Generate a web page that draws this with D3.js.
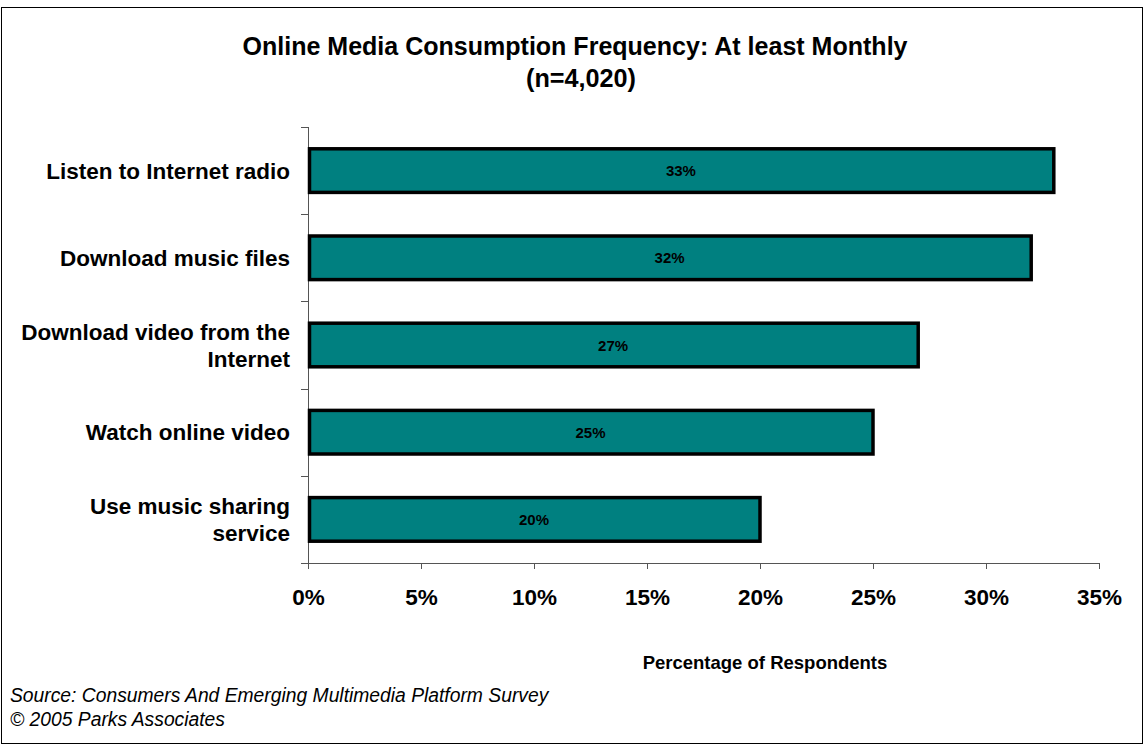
<!DOCTYPE html>
<html>
<head>
<meta charset="utf-8">
<script src="https://cdn.jsdelivr.net/npm/d3@7/dist/d3.min.js"></script>
<style>
  body { margin: 0; background: #fff; }
  text { font-family: "Liberation Sans", Arial, sans-serif; }
</style>
</head>
<body>
<div id="chart"></div>
<script>
// chart data
const categories = [
  ["Listen to Internet radio"],
  ["Download music files"],
  ["Download video from the", "Internet"],
  ["Watch online video"],
  ["Use music sharing", "service"]
];
const values = [33, 32, 27, 25, 20];
const ticks = [0, 5, 10, 15, 20, 25, 30, 35];

const width = 1145, height = 745;
const plotLeft = 308, plotRight = 1099, plotTop = 127, plotBottom = 563;

const svg = d3.select("#chart").append("svg")
  .attr("width", width)
  .attr("height", height);

// outer frame
svg.append("rect")
  .attr("x", 1.5).attr("y", 7.5)
  .attr("width", width - 4).attr("height", height - 9)
  .attr("fill", "none").attr("stroke", "#000").attr("stroke-width", 1);

// title (narrow bold look, squeezed to the original width)
svg.append("text").attr("x", 575).attr("y", 55)
  .attr("text-anchor", "middle").attr("font-size", 26).attr("font-weight", "bold")
  .attr("textLength", 665).attr("lengthAdjust", "spacingAndGlyphs")
  .text("Online Media Consumption Frequency: At least Monthly");
svg.append("text").attr("x", 581).attr("y", 87)
  .attr("text-anchor", "middle").attr("font-size", 26).attr("font-weight", "bold")
  .attr("textLength", 110).attr("lengthAdjust", "spacingAndGlyphs")
  .text("(n=4,020)");

const x = d3.scaleLinear().domain([0, 35]).range([plotLeft, plotRight]);
const y = d3.scaleBand().domain(d3.range(values.length)).range([plotTop, plotBottom]).padding(0);

// x axis
const xAxis = svg.append("g")
  .attr("transform", `translate(0,${plotBottom})`)
  .call(d3.axisBottom(x).tickValues(ticks).tickSize(6).tickSizeOuter(0).tickFormat(d => d + "%"));
xAxis.select(".domain").attr("stroke", "#555").attr("d", `M${plotLeft - 7},0.5H${plotRight}`);
xAxis.selectAll(".tick line").attr("stroke", "#555");
xAxis.selectAll(".tick text")
  .attr("font-size", 22.5).attr("font-weight", "bold").attr("fill", "#000")
  .attr("font-family", "Liberation Sans, Arial, sans-serif")
  .attr("dy", 0).attr("y", 42);

// y axis: line and ticks at band boundaries
const yTicks = d3.range(values.length + 1).map(i => plotTop + i * y.step());
svg.append("line")
  .attr("x1", plotLeft + 0.5).attr("x2", plotLeft + 0.5)
  .attr("y1", plotTop).attr("y2", plotBottom)
  .attr("stroke", "#555");
svg.selectAll(".ytick").data(yTicks).join("line")
  .attr("x1", plotLeft - 7).attr("x2", plotLeft)
  .attr("y1", d => Math.round(d) + 0.5).attr("y2", d => Math.round(d) + 0.5)
  .attr("stroke", "#555");

// bars
const barH = y.bandwidth() * 0.5;
svg.selectAll(".bar").data(values).join("rect")
  .attr("x", x(0) + 1.5)
  .attr("y", (d, i) => y(i) + (y.bandwidth() - barH) / 2)
  .attr("width", d => x(d) - x(0) - 1.5)
  .attr("height", barH)
  .attr("fill", "#008080")
  .attr("stroke", "#000")
  .attr("stroke-width", 3.5);

// value labels
svg.selectAll(".val").data(values).join("text")
  .attr("x", d => (x(0) + x(d)) / 2)
  .attr("y", (d, i) => y(i) + y.bandwidth() / 2 + 5.5)
  .attr("text-anchor", "middle").attr("font-size", 15).attr("font-weight", "bold")
  .text(d => d + "%");

// category labels
categories.forEach((lines, i) => {
  const cy = y(i) + y.bandwidth() / 2;
  const t = svg.append("text")
    .attr("text-anchor", "end").attr("font-size", 22.5).attr("font-weight", "bold");
  lines.forEach((ln, j) => {
    t.append("tspan")
      .attr("x", 290)
      .attr("y", cy + 8 + (j - (lines.length - 1) / 2) * 27)
      .text(ln);
  });
});

// axis title
svg.append("text").attr("x", 765).attr("y", 669)
  .attr("text-anchor", "middle").attr("font-size", 18.5).attr("font-weight", "bold")
  .text("Percentage of Respondents");

// source
svg.append("text").attr("x", 10).attr("y", 702)
  .attr("font-size", 19.3).attr("font-style", "italic")
  .text("Source: Consumers And Emerging Multimedia Platform Survey");
svg.append("text").attr("x", 10).attr("y", 726)
  .attr("font-size", 19.3).attr("font-style", "italic")
  .text("\u00a9 2005 Parks Associates");
</script>
</body>
</html>
